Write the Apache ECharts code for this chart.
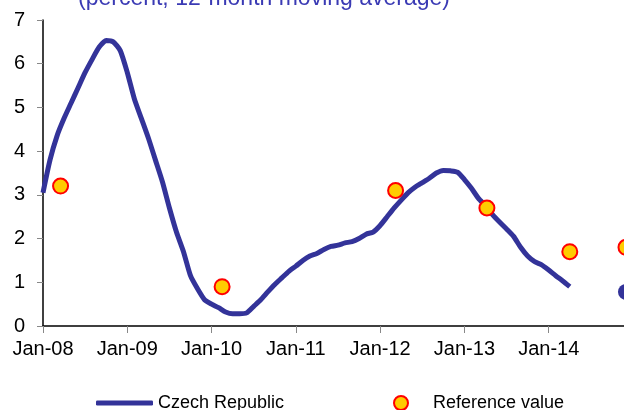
<!DOCTYPE html>
<html>
<head>
<meta charset="utf-8">
<script src="https://cdn.jsdelivr.net/npm/echarts@6/dist/echarts.min.js"></script>
<style>
    html, body { margin: 0; padding: 0; background: #fff; overflow: hidden; }
    #chart { width: 624px; height: 410px; }
</style>
</head>
<body>
<div id="chart"></div>
<script>
(function () {

    // tick labels, one per January starting Jan-08 (x is months since Jan-08)
    var xLabels = ['Jan-08', 'Jan-09', 'Jan-10', 'Jan-11', 'Jan-12', 'Jan-13', 'Jan-14'];

    // Czech Republic, monthly, Jan-08 .. Apr-14
    var czechValues = [
        3.05, 3.8, 4.35, 4.75, 5.1, 5.45, 5.8, 6.1, 6.38, 6.53, 6.5, 6.3,
        5.8, 5.2, 4.75, 4.3, 3.8, 3.3, 2.7, 2.15, 1.7, 1.15, 0.85, 0.6,
        0.5, 0.42, 0.32, 0.28, 0.28, 0.3, 0.45, 0.6, 0.78, 0.95, 1.1, 1.25,
        1.37, 1.5, 1.6, 1.66, 1.75, 1.82, 1.85, 1.9, 1.93, 2.0, 2.1, 2.15,
        2.3, 2.5, 2.7, 2.88, 3.05, 3.18, 3.28, 3.38, 3.5, 3.56, 3.55, 3.52,
        3.35, 3.15, 2.92, 2.75, 2.55, 2.38, 2.22, 2.05, 1.8, 1.6, 1.47, 1.4,
        1.28, 1.15, 1.03, 0.9
    ];

    // reference value points (month since Jan-08, percent)
    var refMonths = [2.5, 25.5, 50.2, 63.2, 75, 83];
    var refValues = [3.2, 0.9, 3.1, 2.7, 1.7, 1.8];

    // Czech forecast point
    var forecastMonths = [83];
    var forecastValues = [0.78];

    var pair = function (xs, ys) {
        return xs.map(function (x, i) {
            return [x, ys[i]];
        });
    };

    var czechData = czechValues.map(function (v, i) {
        return [i, v];
    });

    var el = document.getElementById('chart');
    var ec = echarts.init(el, null, {renderer: 'canvas'});

    ec.setOption({
        animation: false,
        textStyle: {fontFamily: '"Liberation Sans", Arial, sans-serif'},
        title: {
            text: '(percent, 12-month moving average)',
            left: 78,
            top: -13,
            padding: 0,
            textStyle: {
                color: '#3a3ab4',
                fontSize: 23,
                fontWeight: 'normal'
            }
        },
        grid: {
            left: 43,
            right: -9,
            top: 20,
            bottom: 84,
            containLabel: false,
            outerBoundsMode: 'none'
        },
        legend: [
            {
                data: [{name: 'Czech Republic', icon: 'roundRect'}],
                left: 96,
                top: 394,
                padding: 0,
                itemWidth: 57,
                itemHeight: 5,
                itemGap: 0,
                textStyle: {color: '#000', fontSize: 18}
            },
            {
                data: [{name: 'Reference value'}],
                left: 393,
                top: 394,
                padding: 0,
                icon: 'circle',
                itemWidth: 14,
                itemHeight: 14,
                textStyle: {color: '#000', fontSize: 18, padding: [0, 0, 0, 20]}
            }
        ],
        xAxis: {
            type: 'value',
            min: 0,
            max: 84,
            interval: 12,
            splitLine: {show: false},
            axisLine: {onZero: false, lineStyle: {color: '#000', width: 1.5}},
            axisTick: {show: true, length: 7, lineStyle: {color: '#888'}},
            axisLabel: {
                color: '#000',
                fontSize: 20,
                margin: 13,
                formatter: function (v) {
                    return xLabels[v / 12] || '';
                }
            }
        },
        yAxis: {
            type: 'value',
            min: 0,
            max: 7,
            interval: 1,
            splitLine: {show: false},
            axisLine: {show: true, lineStyle: {color: '#000', width: 1.5}},
            axisTick: {show: true, length: 6, lineStyle: {color: '#888'}},
            axisLabel: {color: '#000', fontSize: 20, margin: 18}
        },
        series: [
            {
                name: 'Czech Republic',
                type: 'line',
                data: czechData,
                symbol: 'none',
                smooth: 0.2,
                lineStyle: {color: '#333399', width: 5},
                itemStyle: {color: '#333399'},
                z: 2
            },
            {
                name: 'Reference value',
                type: 'scatter',
                data: pair(refMonths, refValues),
                symbol: 'circle',
                symbolSize: 15,
                itemStyle: {color: '#ffcc00', borderColor: '#ff0000', borderWidth: 2, opacity: 1},
                z: 3
            },
            {
                name: 'Czech forecast',
                type: 'scatter',
                data: pair(forecastMonths, forecastValues),
                symbol: 'circle',
                symbolSize: 16,
                itemStyle: {color: '#333399', opacity: 1},
                z: 3
            }
        ]
    });

})();
</script>
</body>
</html>
